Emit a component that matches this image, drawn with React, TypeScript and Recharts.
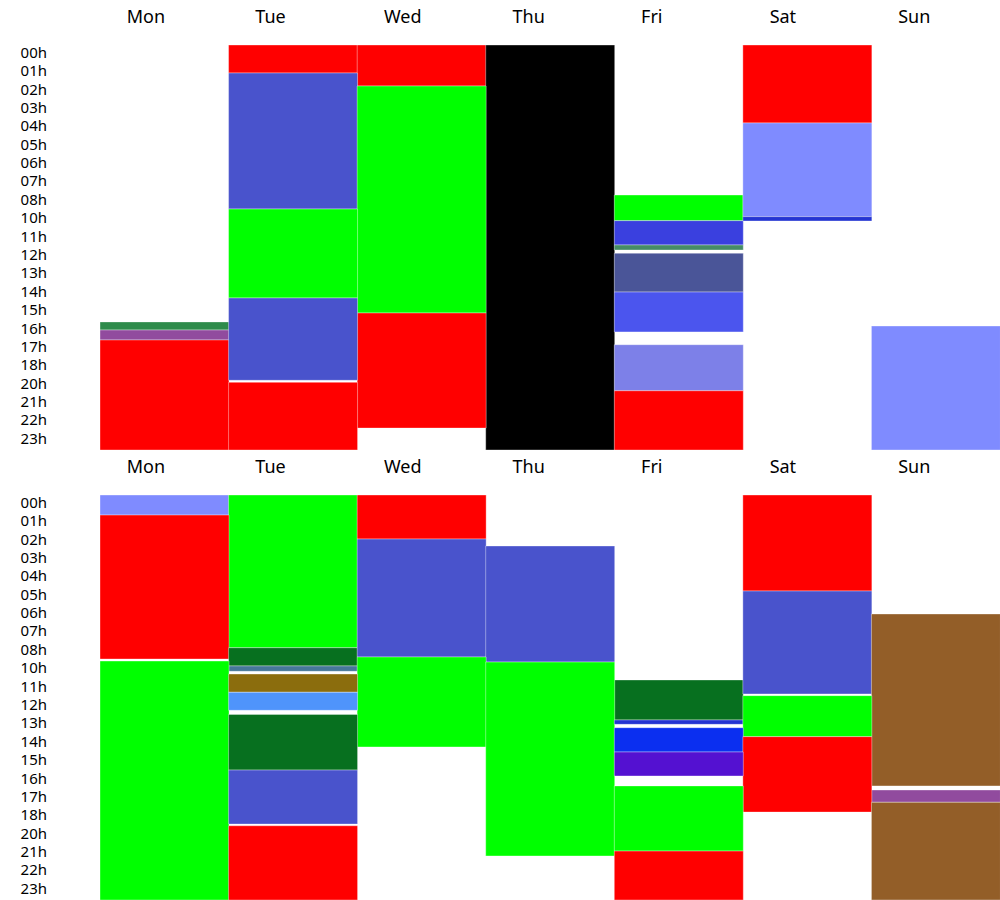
import { BarChart, Bar, XAxis, YAxis, Cell } from 'recharts';

const days = ['Mon', 'Tue', 'Wed', 'Thu', 'Fri', 'Sat', 'Sun'];

// the source chart skips 09h and 19h
const hourLabels = [
  '00h', '01h', '02h', '03h', '04h', '05h', '06h', '07h', '08h', '10h', '11h',
  '12h', '13h', '14h', '15h', '16h', '17h', '18h', '20h', '21h', '22h', '23h',
];

// [start hour, end hour, activity]
type Seg = [number, number, string];

// first week
const w1Mon: Seg[] = [[16.41, 16.89, 'forest'], [16.89, 17.48, 'orchid'], [17.48, 24, 'red']];
const w1Tue: Seg[] = [[0, 1.66, 'red'], [1.66, 9.72, 'royal'], [9.72, 14.99, 'lime'], [14.99, 19.87, 'royal'], [19.99, 24, 'red']];
const w1Wed: Seg[] = [[0, 2.43, 'red'], [2.43, 15.88, 'lime'], [15.88, 22.7, 'red']];
const w1Thu: Seg[] = [[0, 24, 'black']];
const w1Fri: Seg[] = [
  [8.89, 10.41, 'lime'], [10.41, 11.85, 'blue'], [11.85, 12.15, 'sea'], [12.34, 14.64, 'slate'],
  [14.64, 17.0, 'indigo'], [17.76, 20.49, 'lavender'], [20.49, 24, 'red'],
];
const w1Sat: Seg[] = [[0, 4.62, 'red'], [4.62, 10.17, 'periwinkle'], [10.17, 10.43, 'navy']];
const w1Sun: Seg[] = [[16.65, 24, 'periwinkle']];

// second week
const w2Mon: Seg[] = [[0, 1.19, 'periwinkle'], [1.19, 9.72, 'red'], [9.84, 24, 'lime']];
const w2Tue: Seg[] = [
  [0, 9.05, 'lime'], [9.05, 10.13, 'green'], [10.13, 10.45, 'steel'], [10.61, 11.69, 'olive'],
  [11.69, 12.76, 'sky'], [13.0, 16.3, 'green'], [16.3, 19.5, 'royal'], [19.6, 24, 'red'],
];
const w2Wed: Seg[] = [[0, 2.61, 'red'], [2.61, 9.6, 'royal'], [9.6, 14.93, 'lime']];
const w2Thu: Seg[] = [[3.02, 9.9, 'royal'], [9.9, 21.39, 'lime']];
const w2Fri: Seg[] = [
  [10.96, 13.33, 'green'], [13.33, 13.59, 'navy'], [13.79, 15.23, 'cobalt'], [15.23, 16.65, 'violet'],
  [17.24, 21.1, 'lime'], [21.1, 24, 'red'],
];
const w2Sat: Seg[] = [[0, 5.69, 'red'], [5.69, 11.79, 'royal'], [11.89, 14.32, 'lime'], [14.32, 18.79, 'red']];
const w2Sun: Seg[] = [[7.05, 17.24, 'brown'], [17.48, 18.21, 'orchid'], [18.21, 24, 'brown']];

const week1 = [w1Mon, w1Tue, w1Wed, w1Thu, w1Fri, w1Sat, w1Sun];
const week2 = [w2Mon, w2Tue, w2Wed, w2Thu, w2Fri, w2Sat, w2Sun];

const COLORS: Record<string, string> = {
  red: '#ff0000',
  lime: '#00ff00',
  royal: '#4953cc',
  black: '#000000',
  periwinkle: '#7f8bff',
  forest: '#2e8b4b',
  orchid: '#914b9e',
  blue: '#3a40df',
  sea: '#468c66',
  slate: '#4a5598',
  indigo: '#4b55ee',
  lavender: '#7d80e8',
  navy: '#2434d2',
  green: '#07701f',
  steel: '#46779a',
  olive: '#8b6d0d',
  sky: '#4f94fb',
  cobalt: '#0b2ff0',
  violet: '#5411d1',
  brown: '#935e28',
};

// label positions on the hour scale
const tickStart = 0.444;
const tickStep = 1.0893;
const hourTicks = hourLabels.map((_, i) => tickStart + i * tickStep);

type Piece = { len: number; cat: string | null };

function buildRows(week: Seg[][]) {
  const pieces: Piece[][] = week.map((segs) => {
    const out: Piece[] = [];
    let t = 0;
    segs.forEach(([s, e, c]) => {
      if (s > t + 1e-6) out.push({ len: s - t, cat: null });
      out.push({ len: e - s, cat: c });
      t = e;
    });
    return out;
  });
  const n = Math.max(...pieces.map((p) => p.length));
  pieces.forEach((p) => {
    while (p.length < n) p.push({ len: 0, cat: null });
  });
  const rows = days.map((d, i) => {
    const r: Record<string, string | number> = { day: d };
    pieces[i].forEach((p, j) => (r['p' + j] = p.len));
    return r;
  });
  return { rows, pieces, n };
}

const WeekChart = ({ week }: { week: Seg[][] }) => {
  const { rows, pieces, n } = buildRows(week);
  return (
    <BarChart
      width={1000}
      height={450}
      data={rows}
      margin={{ top: 0, right: 0, bottom: 0, left: 0 }}
      barCategoryGap={0}
      barGap={0}
    >
      <XAxis
        dataKey='day'
        orientation='top'
        height={45}
        axisLine={false}
        tickLine={false}
        tickMargin={16}
        interval={0}
        tick={{ fontSize: 18, fill: '#000', textAnchor: 'start', dx: -37.5 }}
      />
      <YAxis
        type='number'
        domain={[0, 24]}
        reversed
        width={100}
        ticks={hourTicks}
        interval={0}
        tickFormatter={(_v: number, i: number) => hourLabels[i]}
        axisLine={false}
        tickLine={false}
        tickMargin={47}
        tick={{ fontSize: 15, fill: '#000' }}
      />
      {Array.from({ length: n }, (_, j) => (
        <Bar key={j} dataKey={'p' + j} stackId='s' isAnimationActive={false}>
          {days.map((d, i) => {
            const cat = pieces[i][j].cat;
            return (
              <Cell
                key={`${d}-${j}`}
                fill={cat ? COLORS[cat] : 'transparent'}
                stroke={cat ? 'rgba(255,255,255,0.35)' : 'none'}
                strokeWidth={1}
              />
            );
          })}
        </Bar>
      ))}
    </BarChart>
  );
};

export default function App() {
  return (
    <div
      style={{
        position: 'absolute',
        left: 0,
        top: 0,
        width: 1000,
        height: 900,
        background: '#fff',
        fontFamily: "'Noto Sans', sans-serif",
      }}
    >
      <WeekChart week={week1} />
      <WeekChart week={week2} />
    </div>
  );
}
